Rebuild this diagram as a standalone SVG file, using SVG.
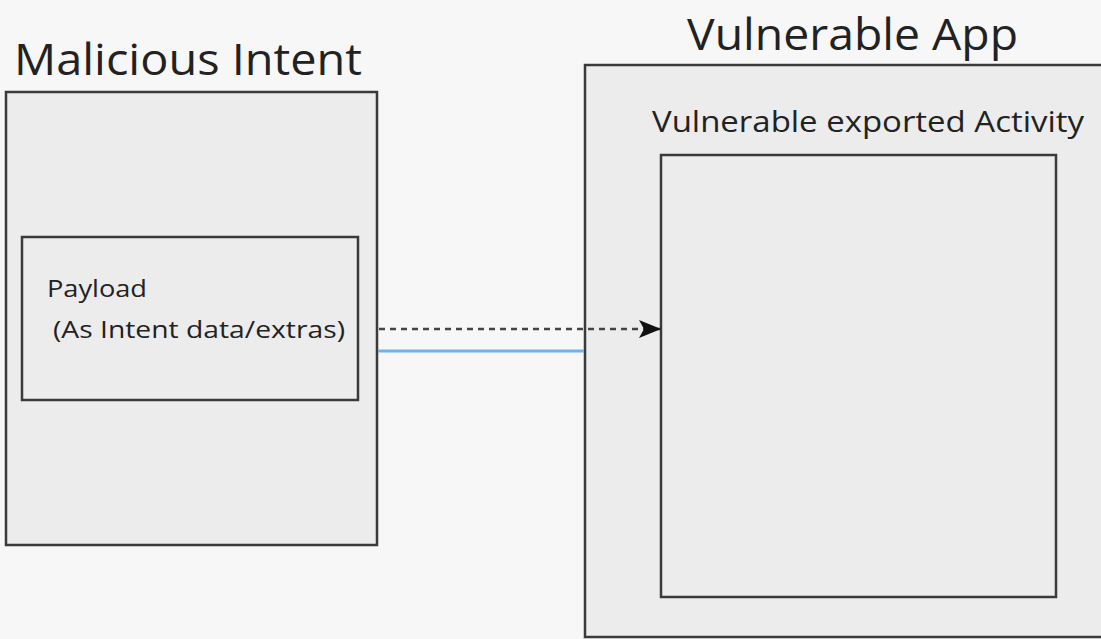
<svg xmlns="http://www.w3.org/2000/svg" width="1101" height="639" viewBox="0 0 1101 639">
<style>
.box{fill:#ececec;stroke:#3a3a3a;stroke-width:2.5}
.t{font-family:"Open Sans","Liberation Sans",sans-serif;fill:#222}
</style>
<defs>
<marker id="ah" markerWidth="22" markerHeight="18" refX="22" refY="9" orient="auto" markerUnits="userSpaceOnUse" viewBox="0 0 22 18">
<path d="M0,0 L22,9 L0,18 L5,9 Z" fill="#111"/>
</marker>
</defs>
<rect width="1101" height="639" fill="#f7f7f7"/>
<g id="malicious-intent">
<text class="t" x="14" y="75" font-size="44" textLength="348" lengthAdjust="spacingAndGlyphs">Malicious Intent</text>
<rect class="box" x="6" y="92" width="371" height="453"/>
</g>
<g id="payload">
<rect class="box" x="22" y="237" width="336" height="163"/>
<text class="t" x="47" y="297" font-size="24" textLength="100" lengthAdjust="spacingAndGlyphs">Payload</text>
<text class="t" x="53" y="338" font-size="24" textLength="292" lengthAdjust="spacingAndGlyphs">(As Intent data/extras)</text>
</g>
<g id="vulnerable-app">
<text class="t" x="687" y="50" font-size="44" textLength="331" lengthAdjust="spacingAndGlyphs">Vulnerable App</text>
<rect class="box" x="585" y="65" width="530" height="572"/>
<text class="t" x="652" y="132" font-size="30" textLength="432" lengthAdjust="spacingAndGlyphs">Vulnerable exported Activity</text>
</g>
<g id="vulnerable-activity">
<rect class="box" x="661" y="155" width="395" height="442"/>
</g>
<g id="connectors">
<line x1="379" y1="329" x2="661" y2="329" stroke="#444" stroke-width="2.5" stroke-dasharray="6,5" marker-end="url(#ah)"/>
<line x1="378" y1="351" x2="584" y2="351" stroke="#6db3f2" stroke-width="3"/>
</g>
</svg>
